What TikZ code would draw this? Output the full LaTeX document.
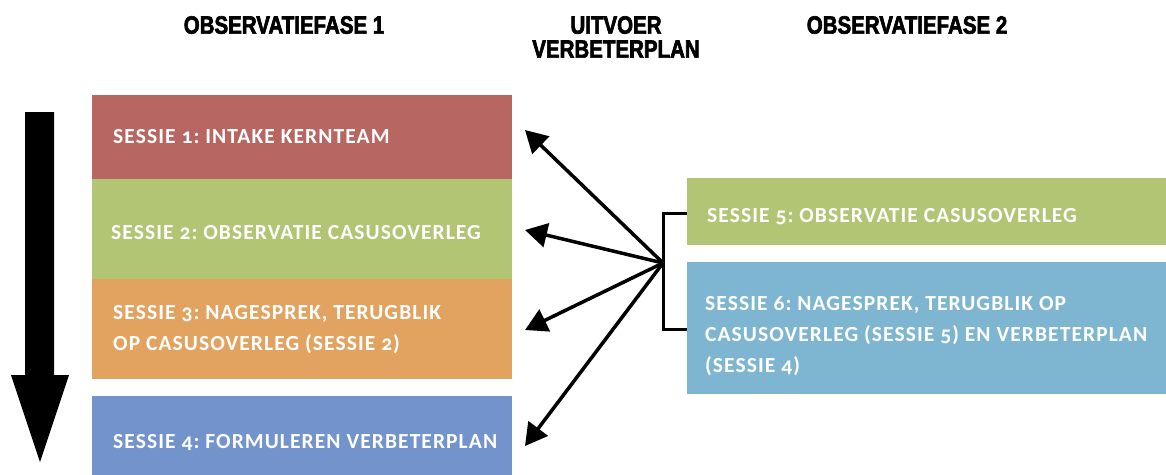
\documentclass[tikz,border=0pt]{standalone}
\usepackage{fontspec}
\usetikzlibrary{arrows.meta}
\newfontfamily\hdrfont[FakeStretch=0.82,FakeBold=2.5]{Liberation Sans Bold}
\newfontfamily\boxfont[Numbers=OldStyle,LetterSpace=5]{Carlito Bold}
\definecolor{cred}{HTML}{B86662}
\definecolor{cgreen}{HTML}{B2C574}
\definecolor{corange}{HTML}{E2A360}
\definecolor{cblue}{HTML}{7293CB}
\definecolor{clblue}{HTML}{7EB6D2}
\tikzset{
  hdr/.style={font=\hdrfont\fontsize{25}{24}\selectfont, align=center, inner sep=0pt},
  sbox/.style={anchor=north west, inner sep=0pt, draw=none},
  stext/.style={anchor=base west, inner sep=0pt, align=left,
    font=\boxfont\fontsize{21.5}{31}\selectfont, execute at begin node=\frenchspacing, text=white},
  conn/.style={line width=3.5pt, -{Triangle[length=22pt,width=24pt]}},
  brk/.style={line width=3pt},
}
\begin{document}
\begin{tikzpicture}[x=1pt,y=-1pt]
\useasboundingbox (0,0) rectangle (1166,474);
% headers
\node[hdr, anchor=north] (h1) at (284,16) {OBSERVATIEFASE 1};
\node[hdr, anchor=north] (h2) at (616,16) {UITVOER\\VERBETERPLAN};
\node[hdr, anchor=north] (h3) at (907,16) {OBSERVATIEFASE 2};
% left boxes
\node[sbox, fill=cred, minimum width=420, minimum height=84] (s1) at (92,95) {};
\node[sbox, fill=cgreen, minimum width=420, minimum height=100] (s2) at (92,179) {};
\node[sbox, fill=corange, minimum width=420, minimum height=100] (s3) at (92,279) {};
\node[sbox, fill=cblue, minimum width=420, minimum height=90] (s4) at (92,396) {};
\node[stext] (s1t) at (113,143) {SESSIE 1: INTAKE KERNTEAM};
\node[stext] (s2t) at (111,239) {SESSIE 2: OBSERVATIE CASUSOVERLEG};
\node[stext] (s3t) at (113,350) {SESSIE 3: NAGESPREK, TERUGBLIK\\OP CASUSOVERLEG (SESSIE 2)};
\node[stext] (s4t) at (113,448) {SESSIE 4: FORMULEREN VERBETERPLAN};
% right boxes
\node[sbox, fill=cgreen, minimum width=479, minimum height=67] (s5) at (687,178) {};
\node[sbox, fill=clblue, minimum width=479, minimum height=132] (s6) at (687,262) {};
\node[stext] (s5t) at (707,222) {SESSIE 5: OBSERVATIE CASUSOVERLEG};
\node[stext] (s6t) at (705,372) {SESSIE 6: NAGESPREK, TERUGBLIK OP\\CASUSOVERLEG (SESSIE 5) EN VERBETERPLAN\\(SESSIE 4)};
% big arrow
\fill (25,112) -- (54,112) -- (54,375) -- (69,375) -- (40,462) -- (11,375) -- (25,375) -- cycle;
% bracket and arrows
\coordinate (hub) at (663,263);
\coordinate (t1) at (525,130);
\coordinate (t2) at (525,230);
\coordinate (t3) at (525,330);
\coordinate (t4) at (525,446);
\draw[brk] (s5.west |- 0,213) -- (663,213) -- (663,329) -- (s6.west |- 0,329);
\draw[conn] (hub) -- (t1);
\draw[conn] (hub) -- (t2);
\draw[conn] (hub) -- (t3);
\draw[conn] (hub) -- (t4);
\end{tikzpicture}
\end{document}
